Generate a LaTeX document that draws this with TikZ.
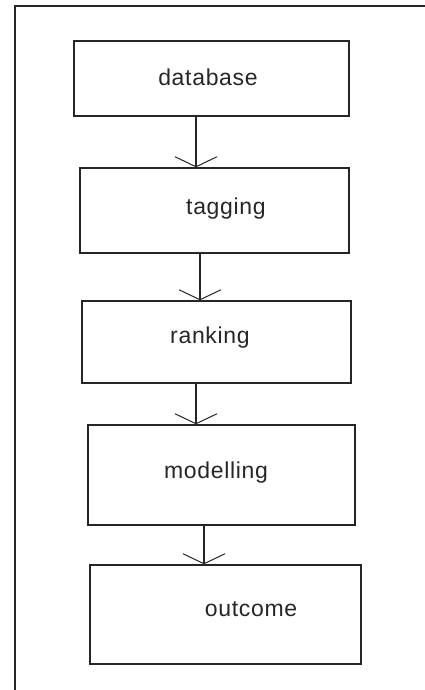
\documentclass[tikz,border=0pt]{standalone}
\usepackage{fontspec}
\setmainfont{Liberation Sans}[LetterSpace=3]
\usetikzlibrary{arrows.meta}
\begin{document}
\begin{tikzpicture}[x=1pt,y=-1pt,
  box/.style={draw=black!85,line width=1.4pt,minimum width=#1,inner sep=0pt},
  lbl/.style={font=\fontsize{23}{25}\selectfont,text=black!85,inner sep=0pt},
  conn/.style={draw=black!85,line width=1.3pt,-{Straight Barb[length=10pt,width=42pt,line width=1pt]}},
  frame/.style={draw=black!85,line width=1.6pt}]
\useasboundingbox (0,0) rectangle (425,690);
\draw[frame] (15,690) -- (15,6) -- (425,6);
% boxes
\node[box=275pt,minimum height=75pt] (db) at (211.5,78.5) {};
\node[box=269pt,minimum height=85pt] (tag) at (214.5,210.5) {};
\node[box=269pt,minimum height=82pt] (rank) at (216.5,342) {};
\node[box=267pt,minimum height=100pt] (mod) at (221.5,475) {};
\node[box=271pt,minimum height=99pt] (out) at (225.5,614.5) {};
% texts
\node[lbl] (tdb) at (208,77) {database};
\node[lbl] (ttag) at (226,209) {tagging};
\node[lbl] (trank) at (210,338) {ranking};
\node[lbl] (tmod) at (216,473) {modelling};
\node[lbl] (tout) at (251,609) {outcome};
% connectors
\draw[conn] (db.south -| 196,0) -- (tag.north -| 196,0);
\draw[conn] (tag.south -| 200,0) -- (rank.north -| 200,0);
\draw[conn] (rank.south -| 196,0) -- (mod.north -| 196,0);
\draw[conn] (mod.south -| 204,0) -- (out.north -| 204,0);
\end{tikzpicture}
\end{document}
